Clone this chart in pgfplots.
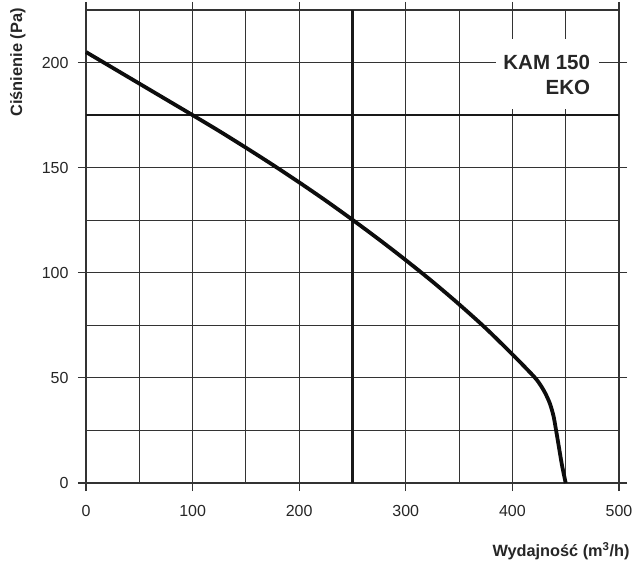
\documentclass[border=0pt]{standalone}
\usepackage{pgfplots}
\pgfplotsset{compat=1.18}
\usepackage{fontspec}
\setmainfont{Liberation Sans}
\definecolor{gridc}{HTML}{333333}
\begin{document}
\begin{tikzpicture}
\begin{axis}[
  scale only axis, width=533pt, height=473pt,
  at={(0,0)}, anchor=south west,
  xmin=0, xmax=500, ymin=0, ymax=225,
  xtick={0,100,...,500}, ytick={0,50,...,200},
  minor xtick={50,150,...,450}, minor ytick={25,75,...,225},
  grid=both,
  major grid style={line width=1.1pt, color=gridc},
  minor grid style={line width=1.1pt, color=gridc},
  tick align=outside, major tick length=8pt, minor tick length=0pt,
  tick style={line width=1.1pt, color=gridc},
  axis line style={line width=1.1pt, color=gridc},
  /pgf/number format/assume math mode=true,
  ticklabel style={font=\fontsize{16}{19}\selectfont, color=black!85},
  xticklabel style={yshift=-11pt},
  yticklabel style={xshift=-6pt},
  clip=false,
]
\addplot[line width=2.6pt, black!90] coordinates {(250,0) (250,225)};
\addplot[line width=2.6pt, black!90] coordinates {(0,175) (500,175)};
\addplot[smooth, tension=0.5, line width=3.8pt, black!95] coordinates {
  (0,205) (25,197.5) (50,190) (75,182.5) (100,175) (125,167.4) (150,159.5)
  (175,151.4) (200,143) (225,134.3) (250,125.2) (275,115.8) (300,106)
  (325,95.8) (350,85) (375,73.6) (400,61.2) (412,55) (423,49)
  (430,43.5) (435,38) (438.5,32) (441,25) (443.5,17.5) (446.5,8.5) (450,0)
};
\fill[white] (axis cs:384.6,211.4) rectangle (axis cs:481,178.1);
\node[anchor=east, font=\bfseries\fontsize{20.5}{24}\selectfont, color=black!85, inner sep=0pt] at (axis cs:473,200) {KAM 150};
\node[anchor=east, font=\bfseries\fontsize{20.5}{24}\selectfont, color=black!85, inner sep=0pt] at (axis cs:473,188.2) {EKO};
\node[rotate=90, font=\bfseries\fontsize{16.4}{19}\selectfont, color=black!85, inner sep=0pt] at (axis cs:-64,200) {Ciśnienie (Pa)};
\node[anchor=east, font=\bfseries\fontsize{16.3}{19}\selectfont, color=black!85, inner sep=0pt] at (axis cs:510,-32.3) {Wydajność (m\textsuperscript{3}/h)};
\end{axis}
\path[use as bounding box] (-86pt,-83pt) rectangle (551pt,483pt);
\end{tikzpicture}
\end{document}
